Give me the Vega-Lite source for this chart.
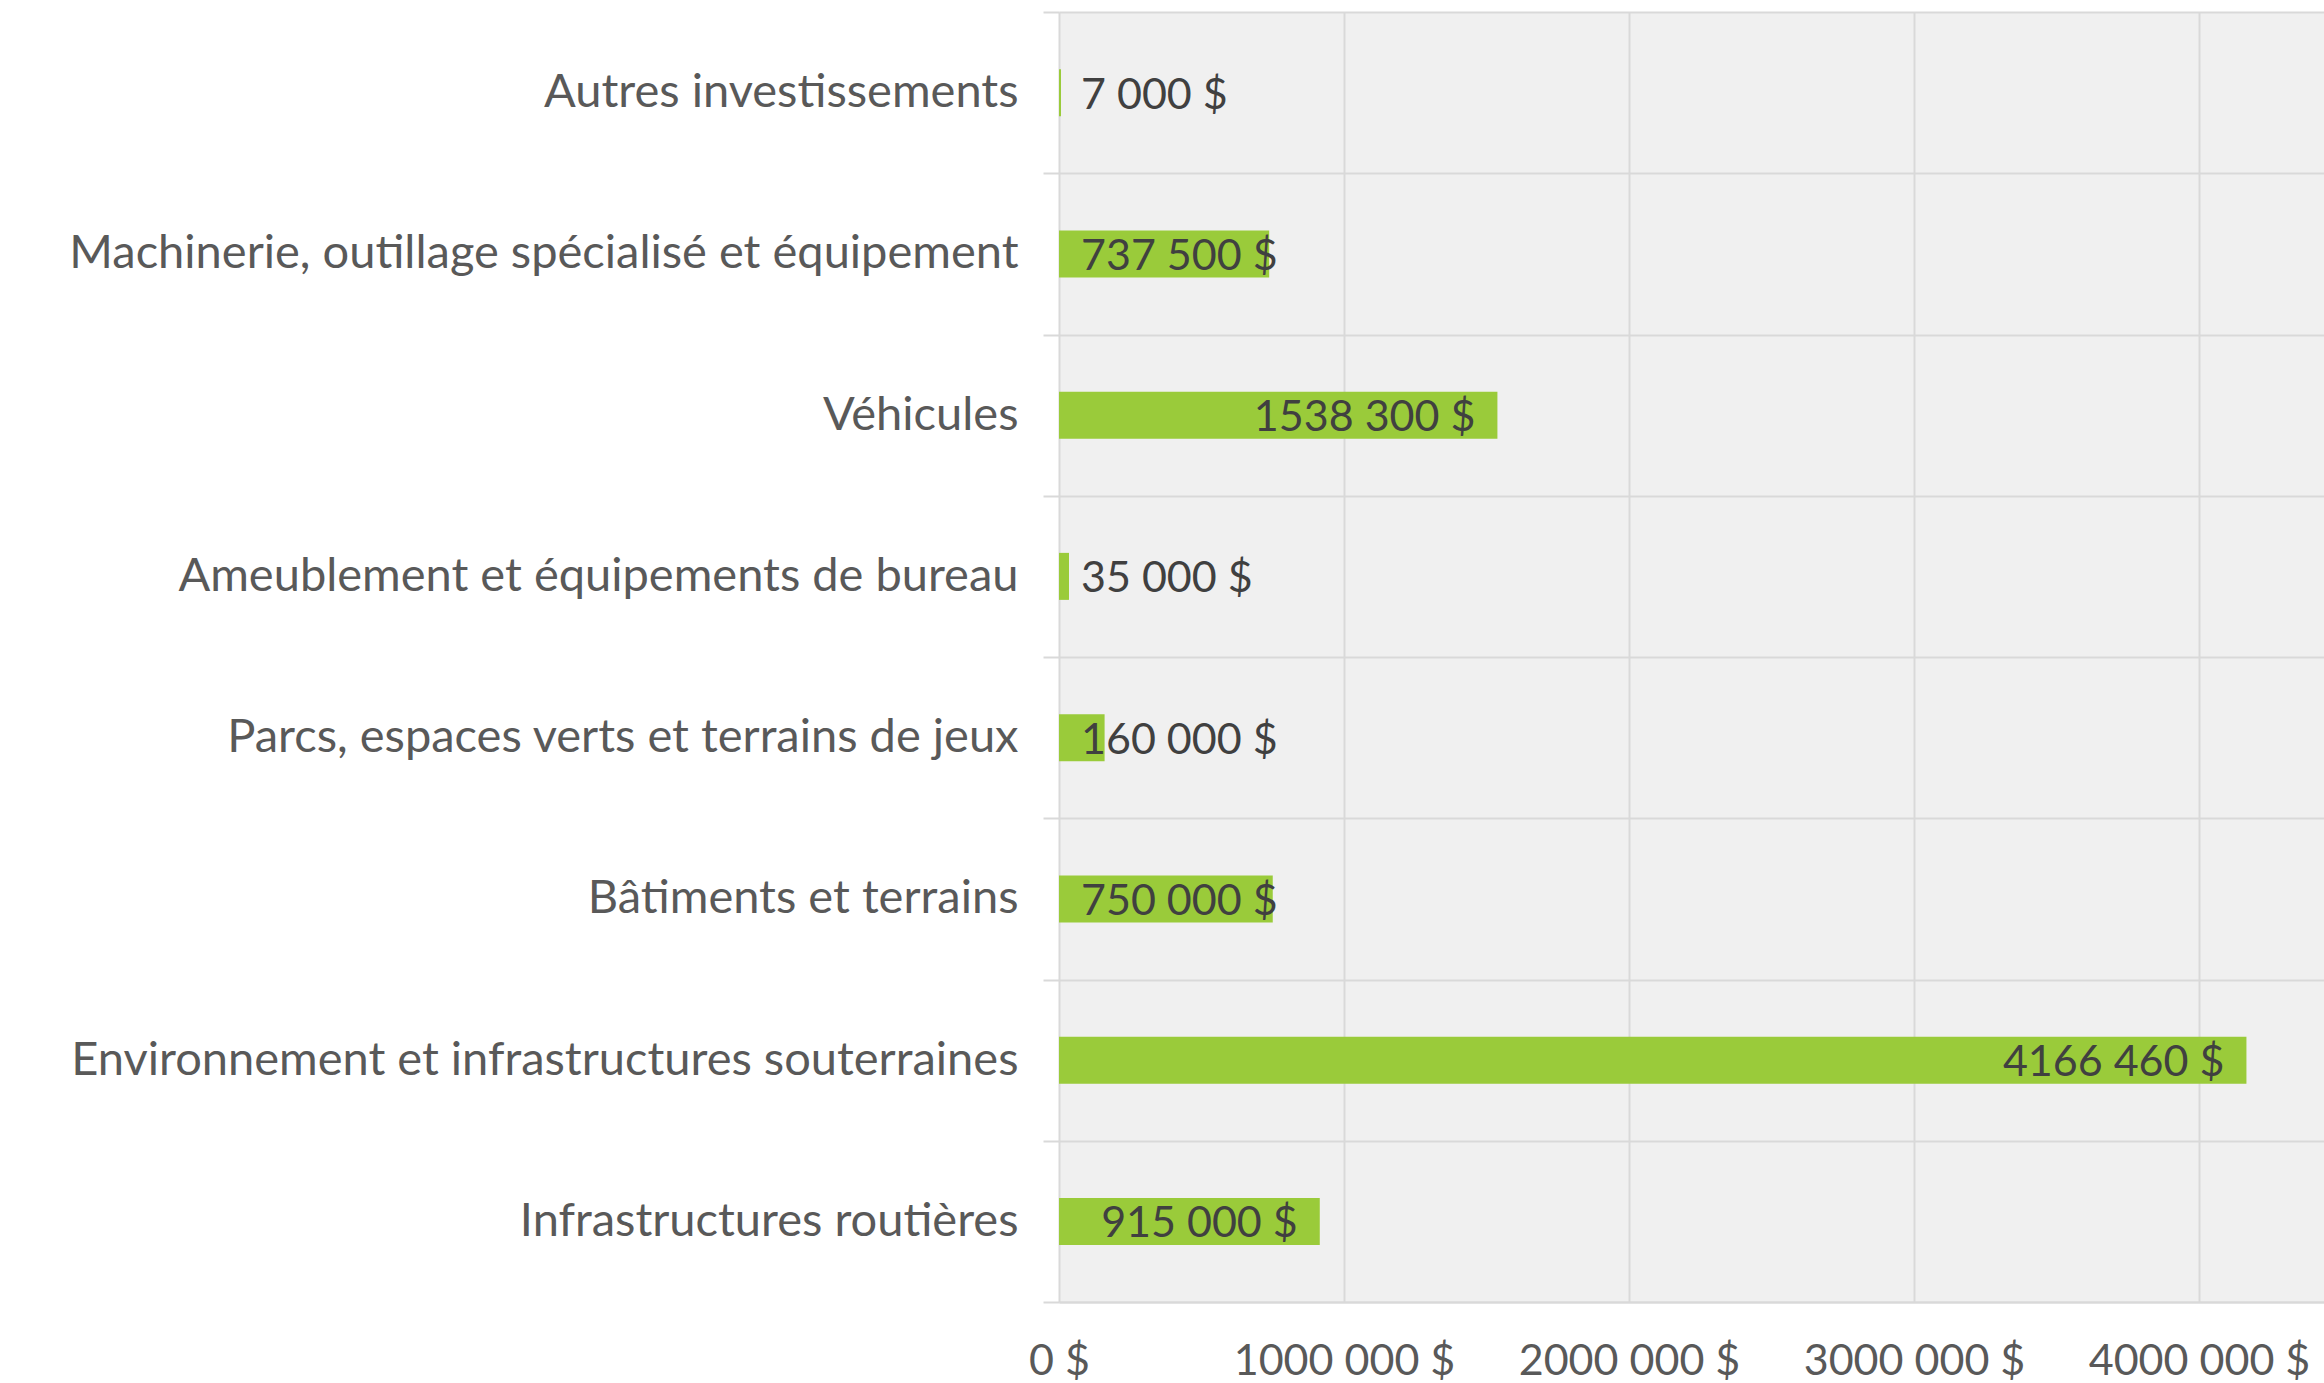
{
  "$schema": "https://vega.github.io/schema/vega-lite/v6.json",
  "width": 1265,
  "height": 1290,
  "autosize": {"type": "none"},
  "padding": {"left": 1059, "top": 12, "right": 0, "bottom": 81},
  "background": "white",
  "config": {
    "locale": {
      "number": {"decimal": ",", "thousands": " ", "grouping": [3, 9], "currency": ["", " $"]}
    },
    "view": {"fill": "#f0f0f0", "stroke": null},
    "font": "Lato"
  },
  "data": {
    "values": [
      {"categorie": "Autres investissements", "montant": 7000},
      {"categorie": "Machinerie, outillage spécialisé et équipement", "montant": 737500},
      {"categorie": "Véhicules", "montant": 1538300},
      {"categorie": "Ameublement et équipements de bureau", "montant": 35000},
      {"categorie": "Parcs, espaces verts et terrains de jeux", "montant": 160000},
      {"categorie": "Bâtiments et terrains", "montant": 750000},
      {"categorie": "Environnement et infrastructures souterraines", "montant": 4166460},
      {"categorie": "Infrastructures routières", "montant": 915000}
    ]
  },
  "encoding": {
    "y": {
      "field": "categorie",
      "type": "nominal",
      "sort": null,
      "title": null,
      "scale": {"paddingInner": 0, "paddingOuter": 0},
      "axis": {
        "tickBand": "extent",
        "grid": true,
        "gridColor": "#d9d9d9",
        "gridWidth": 2,
        "ticks": true,
        "tickSize": 16,
        "tickColor": "#d9d9d9",
        "tickWidth": 2,
        "domain": false,
        "labelFont": "Lato",
        "labelFontSize": 47,
        "labelColor": "#595959",
        "labelPadding": 25,
        "labelLimit": 0
      }
    }
  },
  "layer": [
    {
      "mark": {"type": "bar", "color": "#9acb3a", "size": 47},
      "encoding": {
        "x": {
          "field": "montant",
          "type": "quantitative",
          "title": null,
          "scale": {"domain": [0, 4438600], "nice": false, "zero": true},
          "axis": {
            "values": [0, 1000000, 2000000, 3000000, 4000000],
            "format": "$,.0f",
            "grid": true,
            "gridColor": "#d9d9d9",
            "gridWidth": 2,
            "ticks": false,
            "domainColor": "#d9d9d9",
            "domainWidth": 2,
            "labelFont": "Lato",
            "labelFontSize": 43,
            "labelColor": "#595959",
            "labelPadding": 38,
            "labelLimit": 0,
            "labelFlush": false,
            "labelOverlap": false
          }
        }
      }
    },
    {
      "transform": [{"filter": "datum.montant < 800000"}],
      "mark": {"type": "text", "align": "left", "baseline": "middle", "dx": 22, "dy": 3, "fontSize": 43, "color": "#404040", "font": "Lato"},
      "encoding": {
        "x": {"datum": 0, "type": "quantitative"},
        "text": {"field": "montant", "type": "quantitative", "format": "$,.0f"}
      }
    },
    {
      "transform": [{"filter": "datum.montant >= 800000"}],
      "mark": {"type": "text", "align": "right", "baseline": "middle", "dx": -22, "dy": 3, "fontSize": 43, "color": "#404040", "font": "Lato"},
      "encoding": {
        "x": {"field": "montant", "type": "quantitative"},
        "text": {"field": "montant", "type": "quantitative", "format": "$,.0f"}
      }
    }
  ]
}
